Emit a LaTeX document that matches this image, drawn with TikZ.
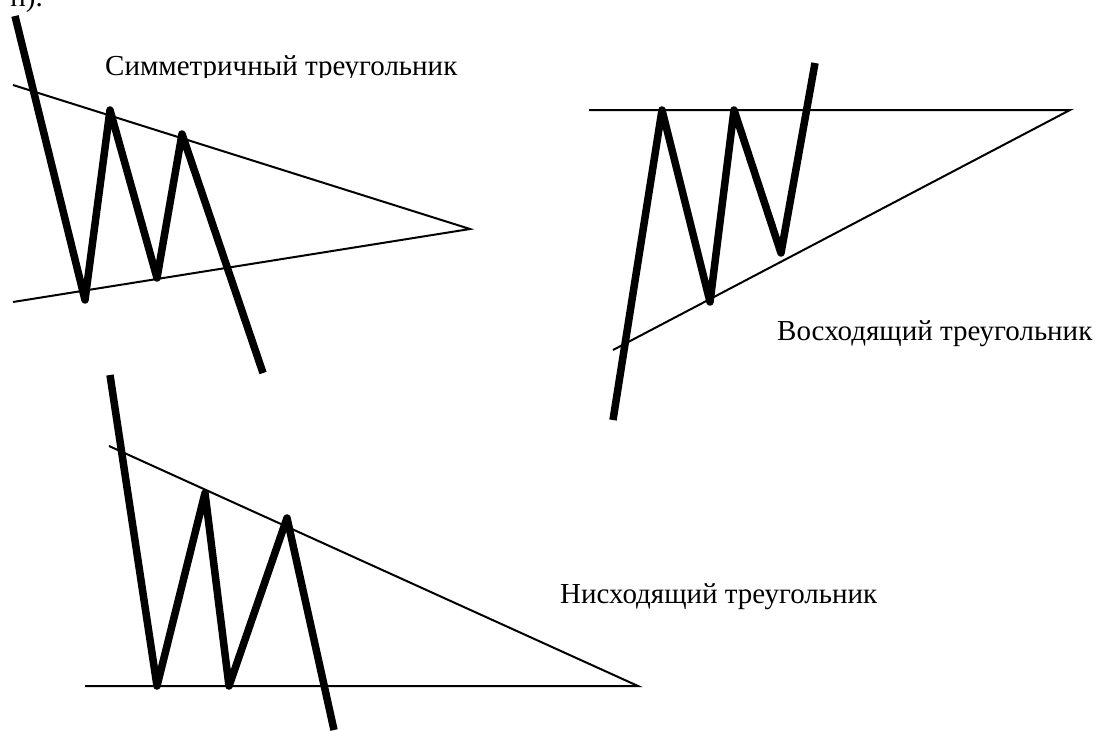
\documentclass[tikz,border=0pt]{standalone}
\usepackage{fontspec}
\setmainfont{Liberation Serif}
\usepackage{tikz}
\tikzset{
  price/.style={line width=7.5pt,line join=round},
  trend/.style={line width=2pt},
  lbl/.style={inner sep=0pt,anchor=base west,font=\fontsize{29}{35}\selectfont}
}

\begin{document}
\begin{tikzpicture}[x=1pt,y=-1pt]
\useasboundingbox (0,0) rectangle (1101,731);
% cut-off text at the top
\node[lbl,anchor=base east] (frag) at (43,6) {н).};
% symmetric triangle
\draw[trend] (13,85) -- (470,229) -- (13,302);
\draw[price] (15,16) -- (85,300) -- (110,110) -- (157,278) -- (182,134) -- (263,373);
\begin{scope}
\clip (0,0) rectangle (1101,77);
\node[lbl] (sym) at (105,75) {Симметричный треугольник};
\end{scope}
% ascending triangle
\draw[trend] (589,110) -- (1070,110) -- (613,350);
\draw[price] (613,420) -- (662,110) -- (710,302) -- (734,110) -- (781,253) -- (815,63);
\node[lbl] (asc) at (777,340) {Восходящий треугольник};
% descending triangle
\draw[trend] (109,446) -- (638,686) -- (85,686);
\draw[price] (110,375) -- (157,686) -- (205,493) -- (229,686) -- (287,518) -- (334,730);
\node[lbl] (desc) at (560,603) {Нисходящий треугольник};
\end{tikzpicture}
\end{document}
